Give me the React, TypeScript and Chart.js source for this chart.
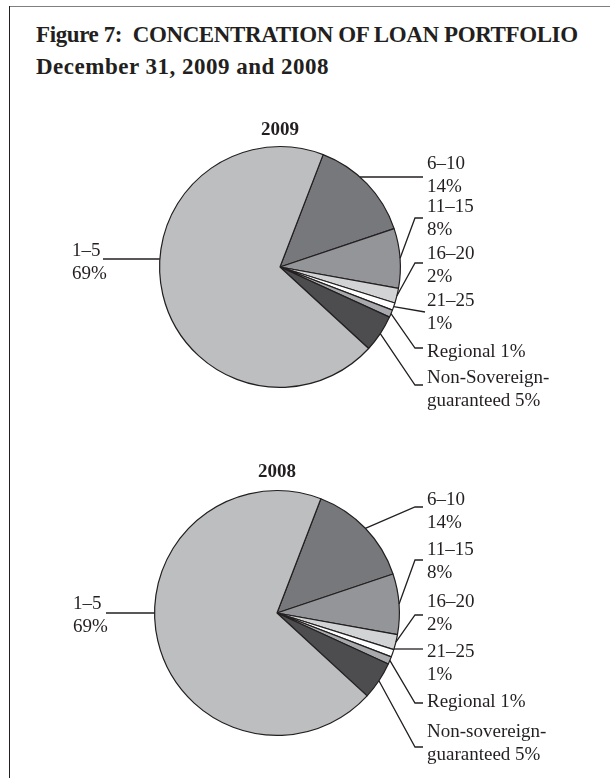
import React, { useEffect, useRef } from "react";
import { Chart, registerables } from "chart.js";

Chart.register(...registerables);

// ---------- data ----------
const categories = ["6–10", "11–15", "16–20", "21–25", "Regional", "Non-Sovereign-guaranteed", "1–5"];
const values2009 = [14, 8, 2, 1, 1, 5, 69];
const values2008 = [14, 8, 2, 1, 1, 5, 69];
const labelNames2009 = ["6–10", "11–15", "16–20", "21–25", "Regional", "Non-Sovereign-\nguaranteed", "1–5"];
const labelNames2008 = ["6–10", "11–15", "16–20", "21–25", "Regional", "Non-sovereign-\nguaranteed", "1–5"];
const sliceColors = ["#77787b", "#939598", "#d1d3d4", "#ffffff", "#a7a9ac", "#4d4d4f", "#bcbec0"];

const INK = "#231f20";
const SERIF = '"Liberation Serif", "Times New Roman", serif';
const W = 610;

type Item = {
  mode: "mid" | "horizontal";
  side?: "left" | "right";
  lineY: number;
  elbowX?: number;
  endX: number;
  textX?: number;
  textY: number;
  inline?: boolean;
};

// label layout relative to pie centre
const layout2009: Item[] = [
  { mode: "horizontal", side: "right", lineY: -90, endX: 143, textY: -103 },
  { mode: "mid", lineY: -49, elbowX: 135, endX: 143, textY: -60 },
  { mode: "mid", lineY: -4, elbowX: 135, endX: 143, textY: -13 },
  { mode: "mid", lineY: 45, elbowX: 145, endX: 145, textY: 34 },
  { mode: "mid", lineY: 81, elbowX: 135, endX: 143, textY: 85, inline: true },
  { mode: "mid", lineY: 118, elbowX: 135, endX: 143, textY: 111, inline: true },
  { mode: "horizontal", side: "left", lineY: -8, endX: -177, textX: -208, textY: -16 },
];

const layout2008: Item[] = [
  { mode: "mid", lineY: -106, elbowX: 138, endX: 146, textY: -113 },
  { mode: "mid", lineY: -53, elbowX: 138, endX: 146, textY: -63 },
  { mode: "mid", lineY: 2, elbowX: 138, endX: 146, textY: -11 },
  { mode: "horizontal", side: "right", lineY: 36, endX: 146, textY: 39 },
  { mode: "mid", lineY: 90, elbowX: 138, endX: 146, textY: 89, inline: true },
  { mode: "mid", lineY: 134, elbowX: 138, endX: 146, textY: 119, inline: true },
  { mode: "horizontal", side: "left", lineY: 0, endX: -171, textX: -204, textY: -9 },
];

const calloutPlugin = {
  id: "callouts",
  afterDraw(chart: any, _args: any, opts: any) {
    const ctx: CanvasRenderingContext2D = chart.ctx;
    const meta = chart.getDatasetMeta(0);
    const values: number[] = chart.data.datasets[0].data;
    const items: Item[] = opts.items;
    const names: string[] = opts.names;
    if (!meta.data.length) return;
    const a0 = meta.data[0].getProps(["x", "y", "outerRadius"], true);
    const cx = a0.x;
    const cy = a0.y;
    ctx.save();
    // title
    ctx.fillStyle = INK;
    ctx.font = `bold 19px ${SERIF}`;
    ctx.textAlign = "center";
    ctx.textBaseline = "middle";
    ctx.fillText(opts.title, cx + opts.titleDX, cy + opts.titleDY);

    ctx.strokeStyle = INK;
    ctx.lineWidth = 1.3;
    ctx.font = `19px ${SERIF}`;
    ctx.textAlign = "left";
    items.forEach((it, i) => {
      const arc = meta.data[i].getProps(["x", "y", "startAngle", "endAngle", "outerRadius"], true);
      const r = arc.outerRadius;
      let ax: number, ay: number;
      if (it.mode === "mid") {
        const m = (arc.startAngle + arc.endAngle) / 2;
        ax = cx + Math.cos(m) * r;
        ay = cy + Math.sin(m) * r;
      } else {
        const dx = Math.sqrt(Math.max(r * r - it.lineY * it.lineY, 0));
        ax = cx + (it.side === "left" ? -dx : dx);
        ay = cy + it.lineY;
      }
      ctx.beginPath();
      ctx.moveTo(ax, ay);
      if (it.mode === "mid" && it.elbowX !== undefined) {
        ctx.lineTo(cx + it.elbowX, cy + it.lineY);
      }
      ctx.lineTo(cx + it.endX, cy + it.lineY);
      ctx.stroke();

      const pct = `${values[i]}%`;
      const name = names[i];
      const text = it.inline ? `${name} ${pct}` : `${name}\n${pct}`;
      const lines = text.split("\n");
      const tx = cx + (it.textX !== undefined ? it.textX : opts.textX);
      lines.forEach((ln, k) => {
        ctx.fillText(ln, tx, cy + it.textY + k * 23);
      });
    });
    ctx.restore();
  },
};

type PieProps = {
  values: number[];
  names: string[];
  items: Item[];
  title: string;
  top: number;
  height: number;
  cx: number;
  cy: number;
  r: number;
  textX: number;
  titleDY: number;
};

function Pie(p: PieProps) {
  const ref = useRef<HTMLCanvasElement>(null);
  useEffect(() => {
    if (!ref.current) return;
    const chart = new Chart(ref.current, {
      type: "pie",
      data: {
        labels: categories,
        datasets: [
          {
            data: p.values,
            backgroundColor: sliceColors,
            borderColor: INK,
            borderWidth: 1.2,
          },
        ],
      },
      options: {
        responsive: false,
        animation: false,
        events: [],
        rotation: 21,
        layout: {
          padding: {
            left: p.cx - p.r,
            top: p.cy - p.r,
            right: W - p.cx - p.r,
            bottom: p.height - p.cy - p.r,
          },
        },
        plugins: {
          legend: { display: false },
          tooltip: { enabled: false },
          title: { display: false },
          callouts: {
            items: p.items,
            names: p.names,
            title: p.title,
            titleDX: 0,
            titleDY: p.titleDY,
            textX: p.textX,
          },
        } as any,
      },
      plugins: [calloutPlugin as any],
    });
    return () => chart.destroy();
  }, []);
  return (
    <canvas
      ref={ref}
      width={W}
      height={p.height}
      style={{ position: "absolute", left: 0, top: p.top, width: W, height: p.height, display: "block" }}
    />
  );
}

const titleStyle: React.CSSProperties = {
  position: "absolute",
  left: 36,
  fontFamily: SERIF,
  fontWeight: "bold",
  fontSize: 23,
  lineHeight: "23px",
  color: INK,
  whiteSpace: "pre",
};

export default function App() {
  return (
    <div
      style={{
        position: "fixed",
        left: 0,
        top: 0,
        width: W,
        height: 778,
        background: "#ffffff",
        overflow: "hidden",
      }}
    >
      <div style={{ position: "absolute", left: 9, top: 5.5, width: W - 9, height: 1.6, background: "#7f7f7f" }} />
      <div style={{ position: "absolute", left: 8.5, top: 5.5, width: 1.8, height: 778, background: INK }} />
      <div style={{ ...titleStyle, top: 23, letterSpacing: "-0.4px" }}>
        {"Figure 7:  CONCENTRATION OF LOAN PORTFOLIO"}
      </div>
      <div style={{ ...titleStyle, top: 54.5, letterSpacing: "0.5px" }}>
        {"December 31, 2009 and 2008"}
      </div>
      <Pie
        values={values2009}
        names={labelNames2009}
        items={layout2009}
        title="2009"
        top={100}
        height={320}
        cx={280}
        cy={167}
        r={121}
        textX={147}
        titleDY={-137}
      />
      <Pie
        values={values2008}
        names={labelNames2008}
        items={layout2008}
        title="2008"
        top={440}
        height={338}
        cx={277}
        cy={173}
        r={123}
        textX={150}
        titleDY={-141}
      />
    </div>
  );
}
